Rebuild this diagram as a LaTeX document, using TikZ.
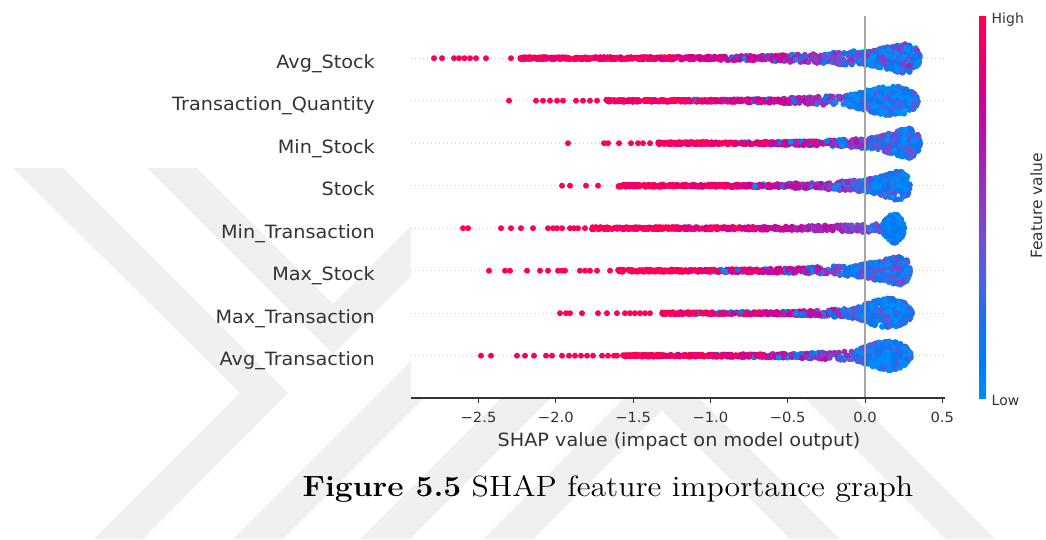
\documentclass[tikz,border=0pt]{standalone}
\usepackage{fontspec}
\newfontfamily\dejavu{DejaVu Sans}

\definecolor{ink}{HTML}{333333}
\definecolor{zeroline}{HTML}{A6A6A6}
\definecolor{gridc}{HTML}{CCCCCC}
\definecolor{wm}{RGB}{240,240,240}
% feature-value colour map, low (0) to high (10)
\definecolor{cm0}{RGB}{0,139,251}
\definecolor{cm1}{RGB}{0,124,245}
\definecolor{cm2}{RGB}{25,112,238}
\definecolor{cm3}{RGB}{72,98,228}
\definecolor{cm4}{RGB}{106,82,214}
\definecolor{cm5}{RGB}{135,62,198}
\definecolor{cm6}{RGB}{160,40,182}
\definecolor{cm7}{RGB}{184,16,165}
\definecolor{cm8}{RGB}{208,0,145}
\definecolor{cm9}{RGB}{232,0,115}
\definecolor{cm10}{RGB}{255,0,82}

\pgfdeclareverticalshading{fvbar}{100bp}{color(0bp)=(cm0); color(25bp)=(cm0);
  color(30bp)=(cm1); color(35bp)=(cm2); color(40bp)=(cm3); color(45bp)=(cm4);
  color(50bp)=(cm5); color(55bp)=(cm6); color(60bp)=(cm7); color(65bp)=(cm8);
  color(70bp)=(cm9); color(75bp)=(cm10); color(100bp)=(cm10)}

\tikzset{
  featlabel/.style={font=\dejavu\fontsize{18.3}{20}\selectfont, text=ink, anchor=base east, xscale=1.05, inner sep=0pt},
  ticklabel/.style={font=\dejavu\fontsize{14}{16}\selectfont, text=ink, anchor=base, xscale=1.05, inner sep=0pt},
  rowline/.style={gridc, line width=0.7pt, dash pattern=on 1pt off 3pt},
}

\def\dotr{3pt}

% isolated high-value points on the left of a row
\newcommand\swarmoutliers[2]{%
  \foreach \ox in {#2}{\fill[cm10] (\ox,#1) circle[radius=\dotr];}}

% dense band of points: y, x start, x end, count, end half-thickness, start of blue mixing
\newcommand\swarmtail[6]{%
  \foreach \k in {1,...,#4}{%
    \pgfmathsetmacro\sT{rnd}%
    \pgfmathsetmacro\sX{#2+(#3-#2)*\sT}%
    \pgfmathsetmacro\sH{1+(#5-1)*\sT*\sT*\sT*\sT}%
    \pgfmathsetmacro\sY{#1+(2*rnd-1)*\sH}%
    \pgfmathsetmacro\sA{rnd}%
    \pgfmathsetmacro\sB{rnd}%
    \pgfmathtruncatemacro\sF{(\sT>#6 && \sA<0.05+0.3*(\sT-#6)/(1-#6)) ? 3*\sB : max(0,min(10,10.6-6.5*\sT*\sT+3*(\sB-0.5)))}%
    \fill[cm\sF] (\sX,\sY) circle[radius=\dotr];
  }}

% pile of low-value points: y, x0, x1, peak position, half-height, base fraction, exponent, count, spread of colour
\newcommand\swarmbulge[9]{%
  \foreach \k in {1,...,#8}{%
    \pgfmathsetmacro\sS{0.002+0.996*rnd}%
    \pgfmathsetmacro\sU{(\sS-#4)/(1-#4)}%
    \pgfmathsetmacro\sH{\sS<#4 ? #5*(#6+(1-#6)*(\sS/#4)^#7) : #5*sqrt(max(0,1-\sU*\sU))}%
    \pgfmathsetmacro\sX{#2+(#3-#2)*\sS}%
    \pgfmathsetmacro\sY{#1+(2*rnd-1)*\sH}%
    \pgfmathtruncatemacro\sF{#9*(0.001+rnd)^1.3}%
    \fill[cm\sF] (\sX,\sY) circle[radius=\dotr];
  }}

\begin{document}
\begin{tikzpicture}[x=1pt,y=-1pt]
\useasboundingbox (0,0) rectangle (1046,539);
\pgfmathsetseed{2718}

% background watermark bands
\fill[wm] (13,168) -- (63,168) -- (288,393) -- (143,539) -- (94,539) -- (240,393) -- cycle;
\fill[wm] (147,168) -- (197,168) -- (333,304) -- (469,168) -- (519,168) -- (333,354) -- cycle;
\fill[wm] (233,539) -- (283,539) -- (520,302) -- (470,302) -- cycle;
\fill[wm] (360,539) -- (410,539) -- (600,349) -- (550,349) -- cycle;
\fill[wm] (483,539) -- (533,539) -- (700,372) -- (650,372) -- cycle;
\fill[wm] (790,539) -- (840,539) -- (650,349) -- (600,349) -- cycle;
\fill[wm] (945,539) -- (995,539) -- (805,349) -- (755,349) -- cycle;

% plot area
\fill[white] (411,0) rectangle (945,398);

% row guide lines
\foreach \i in {0,...,7}{
  \pgfmathsetmacro\ry{58.2+42.5*\i}
  \draw[rowline] (411,\ry) -- (945,\ry);
}

% Avg_Stock
\swarmoutliers{58.2}{434,442,454,459,464.5,470,476,486,511}
\swarmtail{58.2}{520}{866}{560}{8}{0.5}
\swarmbulge{58.2}{858}{920}{0.72}{15}{0.35}{1.2}{420}{6.5}
% Transaction_Quantity
\swarmoutliers{100.7}{509,536,543,550,557,563,576,583,590,597}
\swarmtail{100.7}{606}{862}{430}{7}{0.35}
\swarmbulge{100.7}{848}{918}{0.6}{15}{0.3}{0.7}{420}{4.5}
% Min_Stock
\swarmoutliers{143.2}{568,604,608,619,631,638,643,650}
\swarmtail{143.2}{658}{888}{400}{7}{0.3}
\swarmbulge{143.2}{872}{920}{0.72}{15}{0.3}{1}{340}{6}
% Stock
\swarmoutliers{185.7}{562,570,586,598}
\swarmtail{185.7}{618}{876}{430}{7}{0.4}
\swarmbulge{185.7}{862}{910}{0.75}{15}{0.3}{1}{340}{5.5}
% Min_Transaction
\swarmoutliers{228.2}{463,468,501,511,521,533,548,553,557,562,570,574,578,585}
\swarmtail{228.2}{590}{888}{470}{5}{0.9}
\swarmbulge{228.2}{883}{904}{0.45}{15}{0.3}{0.8}{200}{3}
% Max_Stock
\swarmoutliers{270.7}{489,505,510,527,540,548,558,562,565,580,585,590,597,610}
\swarmtail{270.7}{618}{866}{420}{7}{0.3}
\swarmbulge{270.7}{846}{910}{0.85}{15}{0.15}{1}{420}{5.5}
% Max_Transaction
\swarmoutliers{313.2}{560,566,570,582,598,607,617,625,630,635,640,645,650}
\swarmtail{313.2}{662}{866}{360}{6}{0.1}
\swarmbulge{313.2}{856}{912}{0.5}{15}{0.3}{0.8}{400}{4.5}
% Avg_Transaction
\swarmoutliers{355.7}{481,491,517,525,534,546,552,562,569,575,581,587,593,602,608,614,617}
\swarmtail{355.7}{623}{866}{400}{6}{0.2}
\swarmbulge{355.7}{856}{911}{0.5}{15}{0.3}{0.8}{400}{4.5}

% zero reference line
\draw[zeroline, line width=2.2pt] (865,16) coordinate (ztop) -- (865,398) coordinate (zbot);

% x axis
\draw[ink, line width=1.1pt] (411,398) coordinate (axl) -- (945,398) coordinate (axr);
\foreach \v/\t [count=\j] in {-2.5/{−2.5},-2.0/{−2.0},-1.5/{−1.5},-1.0/{−1.0},-0.5/{−0.5},0.0/{0.0},0.5/{0.5}}{
  \pgfmathsetmacro\tx{865+154.6*\v}
  \draw[ink, line width=0.9pt] (\tx,398) -- (\tx,402.5);
  \node[ticklabel] (tick\j) at (\tx,422) {\t};
}
\node[font=\dejavu\fontsize{18.3}{20}\selectfont, text=ink, anchor=base, xscale=1.05, inner sep=0pt] (xlab) at (679,446.7) {SHAP value (impact on model output)};

% feature names
\foreach \name [count=\i from 0] in {Avg\_Stock, Transaction\_Quantity, Min\_Stock, Stock, Min\_Transaction, Max\_Stock, Max\_Transaction, Avg\_Transaction}{
  \pgfmathsetmacro\ry{58.2+42.5*\i+10}
  \node[featlabel] (feat\i) at (375,\ry) {\name};
}

% colour bar
\shade[shading=fvbar] (979,16) rectangle (986,398);
\node[font=\dejavu\fontsize{14}{16}\selectfont, text=ink, anchor=base west, inner sep=0pt] (high) at (991.5,23.3) {High};
\node[font=\dejavu\fontsize{14}{16}\selectfont, text=ink, anchor=base west, inner sep=0pt] (low) at (991.5,405) {Low};
\node[font=\dejavu\fontsize{15.5}{17}\selectfont, text=ink, anchor=base, rotate=90, inner sep=0pt] (fvlab) at (1042,206) {Feature value};

% caption
\node[anchor=base west, inner sep=0pt, xscale=2.65, yscale=2.44] (caption) at (302,496.7)
  {\fontsize{12}{14}\selectfont\textbf{Figure 5.5} SHAP feature importance graph};
\end{tikzpicture}
\end{document}
